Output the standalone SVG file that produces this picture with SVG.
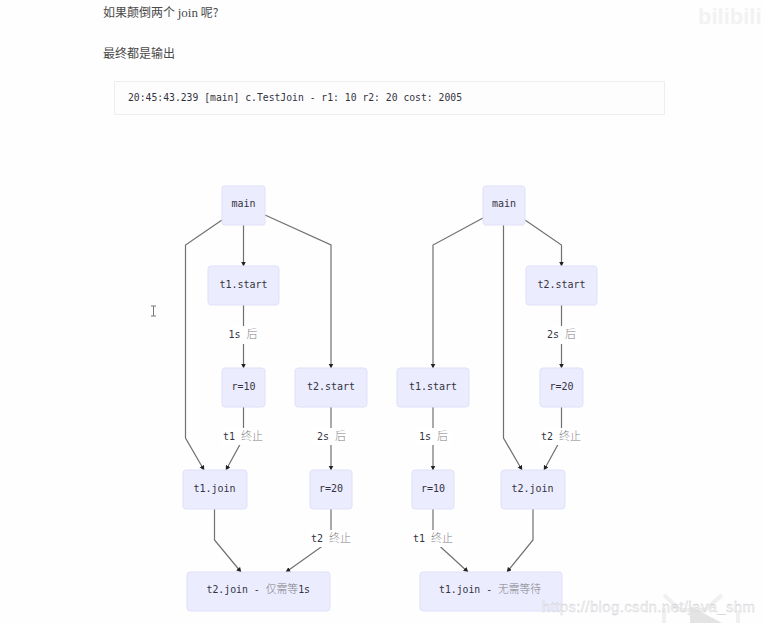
<svg xmlns="http://www.w3.org/2000/svg" width="765" height="623" viewBox="0 0 765 623">
<defs>
<style>
.n{fill:#ececff;stroke:#e0e0f8;stroke-width:1}
.m{font-family:"DejaVu Sans Mono","Liberation Mono",monospace;font-size:10px;fill:#333340}
.t{text-anchor:middle}
.c{font-family:"Noto Sans CJK SC",sans-serif;font-weight:300;fill:#808084;font-size:11px}
.e{fill:none;stroke:#707070;stroke-width:1.200}
.lb{fill:#fff}
.p{font-family:"Noto Sans CJK SC",sans-serif;font-size:12px;fill:#4a4a4a}
</style>
<marker id="a" markerWidth="6" markerHeight="6" refX="4.500" refY="2.500" orient="auto" markerUnits="userSpaceOnUse"><path d="M0,0L5,2.500L0,5Z" fill="#222"/></marker>
</defs>
<rect width="765" height="623" fill="#fefefe"/>
<text x="698" y="24" font-family="Liberation Sans,sans-serif" font-size="22" font-weight="700" fill="#f2f2f2">bilibili</text>
<g id="intro">
<text class="p" x="103" y="17">如果颠倒两个 <tspan font-family="Liberation Serif,serif" font-size="13">join</tspan> 呢?</text>
<text class="p" x="103" y="58">最终都是输出</text>
<rect x="114.500" y="81.500" width="550" height="33" fill="#fdfdfe" stroke="#eeeef2"/>
<text class="m" x="128" y="101" textLength="334" lengthAdjust="spacingAndGlyphs">20:45:43.239 [main] c.TestJoin - r1: 10 r2: 20 cost: 2005</text>
</g>
<path d="M151,306h2.500v10h-2.500M156,306h-2.500v10h2.500" fill="none" stroke="#777" stroke-width="1"/>
<g id="connectors">
<path class="e" marker-end="url(#a)" d="M222,220L185.500,245V438L204,470"/>
<path class="e" marker-end="url(#a)" d="M243.500,225V266"/>
<path class="e" marker-end="url(#a)" d="M265,215L331,245V368"/>
<path class="e" marker-end="url(#a)" d="M243.500,305V368"/>
<path class="e" marker-end="url(#a)" d="M243.500,407V438L226,470"/>
<path class="e" marker-end="url(#a)" d="M331,407V470"/>
<path class="e" marker-end="url(#a)" d="M214.500,509V540L241,572"/>
<path class="e" marker-end="url(#a)" d="M331,509V540L286,572"/>
<path class="e" marker-end="url(#a)" d="M483,218L433,245V368"/>
<path class="e" marker-end="url(#a)" d="M503.500,225V438L522,470"/>
<path class="e" marker-end="url(#a)" d="M525,220L561.500,245V266"/>
<path class="e" marker-end="url(#a)" d="M561.500,305V368"/>
<path class="e" marker-end="url(#a)" d="M561.500,407V438L544,470"/>
<path class="e" marker-end="url(#a)" d="M433,407V470"/>
<path class="e" marker-end="url(#a)" d="M433,509V540L468,572"/>
<path class="e" marker-end="url(#a)" d="M533,509V540L507,572"/>
</g>
<g id="edge-labels">
<rect class="lb" x="226" y="326" width="34" height="18"/><text class="m" x="228.500" y="338">1s <tspan class="c">后</tspan></text>
<rect class="lb" x="221" y="428" width="44" height="17"/><text class="m" x="223" y="440">t1 <tspan class="c">终止</tspan></text>
<rect class="lb" x="314" y="428" width="34" height="17"/><text class="m" x="317" y="440">2s <tspan class="c">后</tspan></text>
<rect class="lb" x="309" y="530" width="44" height="17"/><text class="m" x="311" y="542">t2 <tspan class="c">终止</tspan></text>
<rect class="lb" x="545" y="326" width="34" height="18"/><text class="m" x="547" y="338">2s <tspan class="c">后</tspan></text>
<rect class="lb" x="539" y="428" width="44" height="17"/><text class="m" x="541" y="440">t2 <tspan class="c">终止</tspan></text>
<rect class="lb" x="417" y="428" width="34" height="17"/><text class="m" x="419" y="440">1s <tspan class="c">后</tspan></text>
<rect class="lb" x="411" y="530" width="44" height="17"/><text class="m" x="413" y="542">t1 <tspan class="c">终止</tspan></text>
</g>
<g id="left-main"><rect class="n" x="222" y="186" width="43" height="39" rx="2"/><text class="m t" x="243.500" y="207">main</text></g>
<g id="left-t1-start"><rect class="n" x="208" y="266" width="71" height="39" rx="3"/><text class="m t" x="243.500" y="288">t1.start</text></g>
<g id="left-r10"><rect class="n" x="222" y="368" width="43" height="39" rx="3"/><text class="m t" x="243.500" y="390">r=10</text></g>
<g id="left-t2-start"><rect class="n" x="295" y="368" width="72" height="39" rx="3"/><text class="m t" x="331" y="390">t2.start</text></g>
<g id="left-t1-join"><rect class="n" x="183" y="470" width="64" height="39" rx="3"/><text class="m t" x="214.500" y="492">t1.join</text></g>
<g id="left-r20"><rect class="n" x="310" y="470" width="42" height="39" rx="3"/><text class="m t" x="331" y="492">r=20</text></g>
<g id="left-t2-join"><rect class="n" x="187" y="572" width="143" height="39" rx="3"/><text class="m" x="206.500" y="593" textLength="103.500" lengthAdjust="spacingAndGlyphs">t2.join - <tspan class="c">仅需等</tspan>1s</text></g>
<g id="right-main"><rect class="n" x="483" y="186" width="42" height="39" rx="3"/><text class="m t" x="504" y="207">main</text></g>
<g id="right-t2-start"><rect class="n" x="526" y="266" width="71" height="39" rx="3"/><text class="m t" x="561.500" y="288">t2.start</text></g>
<g id="right-t1-start"><rect class="n" x="397" y="368" width="72" height="39" rx="3"/><text class="m t" x="433" y="390">t1.start</text></g>
<g id="right-r20"><rect class="n" x="540" y="368" width="43" height="39" rx="3"/><text class="m t" x="561.500" y="390">r=20</text></g>
<g id="right-r10"><rect class="n" x="412" y="470" width="42" height="39" rx="3"/><text class="m t" x="433" y="492">r=10</text></g>
<g id="right-t2-join"><rect class="n" x="501" y="470" width="64" height="39" rx="3"/><text class="m t" x="532.500" y="492">t2.join</text></g>
<g id="right-t1-join"><rect class="n" x="420" y="572" width="142" height="39" rx="3"/><text class="m" x="439" y="593" textLength="102" lengthAdjust="spacingAndGlyphs">t1.join - <tspan class="c">无需等待</tspan></text></g>
<path d="M664,595L680,610H705L722,595M664,623V608M738,623V610" fill="none" stroke="#f0f0f0" stroke-width="4"/>
<path d="M690,606L722,623H690Z" fill="#e4e4e4"/>
<text x="542" y="612" font-family="Liberation Sans,sans-serif" font-size="15" fill="#f4f4f6" fill-opacity=".85" stroke="#c8c8cc" stroke-width=".3" textLength="213">https://blog.csdn.net/java_shm</text>
</svg>
